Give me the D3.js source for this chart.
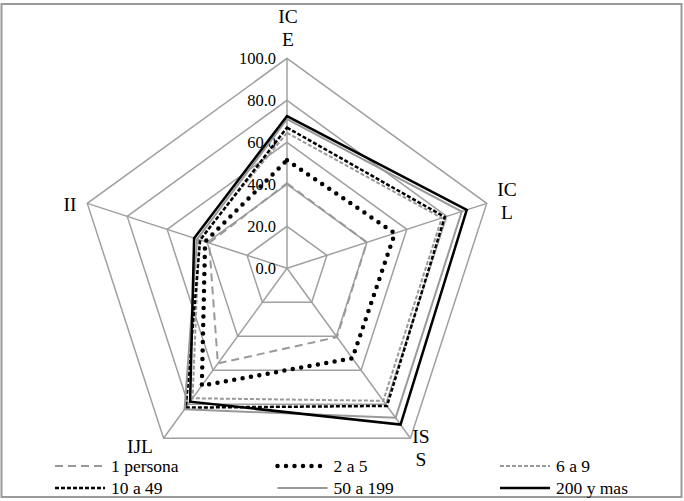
<!DOCTYPE html>
<html><head><meta charset="utf-8">
<script src="https://cdn.jsdelivr.net/npm/d3@7"></script>
<style>body{margin:0;background:#fff}svg{display:block}</style>
</head><body>
<svg id="c" width="684" height="501"></svg>
<script>
const categories = ["ICE","ICL","ISS","IJL","II"];
const categoryLabelLines = [["IC","E"],["IC","L"],["IS","S"],["IJL"],["II"]];
const seriesNames = ["1 persona","2 a 5","6 a 9","10 a 49","50 a 199","200 y mas"];
const s1persona = [40.5, 40, 40.5, 56, 39];
const s2a5      = [51.5, 54, 53, 69, 41];
const s6a9      = [64.5, 77.5, 78, 76.5, 44];
const s10a49    = [67, 79, 81, 82, 43.5];
const s50a199   = [71, 87.5, 88, 83, 45];
const s200ymas  = [72.5, 90, 92, 78.5, 46.5];
const seriesValues = [s1persona, s2a5, s6a9, s10a49, s50a199, s200ymas];
const tickValues = [0,20,40,60,80,100];
const tickLabels = ["0.0","20.0","40.0","60.0","80.0","100.0"];

const styles = [
  {stroke:"#999", w:2, dash:"8,5", cap:"butt"},
  {stroke:"#000", w:4.5, dash:"0,8.5", cap:"round"},
  {stroke:"#999", w:2, dash:"4,2", cap:"butt"},
  {stroke:"#000", w:2.5, dash:"4,2", cap:"butt"},
  {stroke:"#999", w:2, dash:null, cap:"butt"},
  {stroke:"#000", w:2.5, dash:null, cap:"butt"}
];
const FONT = "'Liberation Serif', 'DejaVu Serif', serif";

const svg = d3.select("#c");
const cx = 287, cy = 268.3, R = 210;
const rScale = d3.scaleLinear().domain([0,100]).range([0,R]);
const angle = d3.scalePoint().domain(categories).range([0, 2*Math.PI*4/5]);
const pt = (cat, v) => {
  const a = angle(cat) - Math.PI/2;
  return [cx + rScale(v)*Math.cos(a), cy + rScale(v)*Math.sin(a)];
};

// frame
svg.append("rect").attr("x",1.5).attr("y",4).attr("width",680).attr("height",493)
  .attr("fill","none").attr("stroke","#9a9a9a").attr("stroke-width",2);

const g = svg.append("g");
const line = d3.line();
// grid pentagons
tickValues.slice(1).forEach(t => {
  const pts = categories.map(c => pt(c, t));
  g.append("path").attr("d", line(pts) + "Z").attr("fill","none")
    .attr("stroke","#a0a0a0").attr("stroke-width",1.5);
});
// spokes
categories.forEach(c => {
  const p = pt(c, 100);
  g.append("line").attr("x1",cx).attr("y1",cy).attr("x2",p[0]).attr("y2",p[1])
    .attr("stroke","#a0a0a0").attr("stroke-width",1.5);
});
// tick labels
tickValues.forEach((t,i) => {
  g.append("text").attr("x", cx - 11).attr("y", cy - rScale(t) + 6)
    .attr("text-anchor","end").attr("font-family",FONT)
    .attr("font-size",16.5).attr("fill","#000").text(tickLabels[i]);
});
// category labels
const labelPos = [[288,23],[507,196],[421,443],[140,453],[70,211]];
categories.forEach((c,i) => {
  const t = g.append("text").attr("x",labelPos[i][0]).attr("y",labelPos[i][1])
    .attr("text-anchor","middle").attr("font-family",FONT)
    .attr("font-size",19.5).attr("fill","#000");
  categoryLabelLines[i].forEach((ln,j) => {
    t.append("tspan").attr("x",labelPos[i][0]).attr("dy", j===0?0:23).text(ln);
  });
});
// series
seriesValues.forEach((vals,i) => {
  const pts = categories.map((c,k) => pt(c, vals[k]));
  const st = styles[i];
  g.append("path").attr("d", line(pts) + "Z").attr("fill","none")
    .attr("stroke", st.stroke).attr("stroke-width", st.w)
    .attr("stroke-dasharray", st.dash).attr("stroke-linecap", st.cap)
    .attr("stroke-linejoin","miter");
});
// legend
const lx = d3.scalePoint().domain([0,1,2]).range([55, 500]);
const ly = d3.scalePoint().domain([0,1]).range([466, 488]);
seriesNames.forEach((n,i) => {
  const col = i % 3, row = Math.floor(i/3);
  const x = lx(col), y = ly(row);
  const st = styles[i];
  svg.append("line").attr("x1", x).attr("x2", x+50).attr("y1", y).attr("y2", y)
    .attr("stroke", st.stroke).attr("stroke-width", st.w)
    .attr("stroke-dasharray", st.dash).attr("stroke-linecap", st.cap);
  svg.append("text").attr("x", x+56).attr("y", y+6)
    .attr("font-family",FONT).attr("font-size",17.5)
    .attr("fill","#000").text(n);
});
</script>
</body></html>
